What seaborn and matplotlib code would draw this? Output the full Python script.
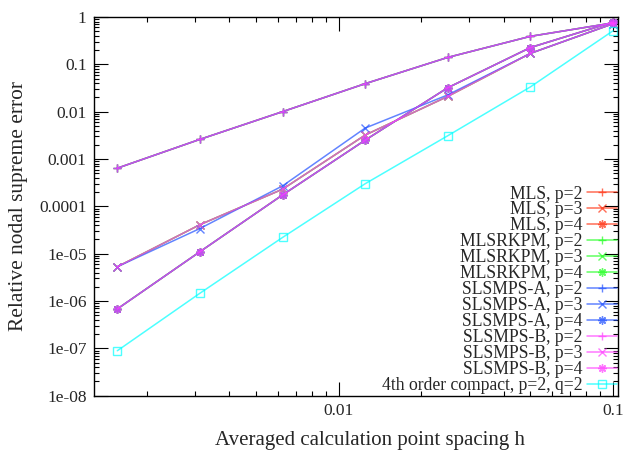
import numpy as np
import matplotlib
matplotlib.use("Agg")
import matplotlib.pyplot as plt
import matplotlib.ticker as mticker
import seaborn as sns

# calculation point spacing
h = [0.0015625, 0.003125, 0.00625, 0.0125, 0.025, 0.05, 0.1]

# relative nodal supreme error
mls_p2 = [6.4e-4, 2.6e-3, 1.0e-2, 3.9e-2, 0.14, 0.39, 0.75]
mls_p3 = [5.3e-6, 4.1e-5, 2.3e-4, 3.2e-3, 0.021, 0.17, 0.72]
mls_p4 = [6.8e-7, 1.1e-5, 1.74e-4, 2.5e-3, 0.032, 0.226, 0.78]
rkpm_p2 = [6.4e-4, 2.6e-3, 1.0e-2, 3.9e-2, 0.14, 0.39, 0.75]
rkpm_p3 = [5.3e-6, 4.1e-5, 2.3e-4, 3.2e-3, 0.021, 0.17, 0.72]
rkpm_p4 = [6.8e-7, 1.1e-5, 1.74e-4, 2.5e-3, 0.032, 0.226, 0.78]
slsA_p2 = [6.4e-4, 2.6e-3, 1.0e-2, 3.9e-2, 0.14, 0.39, 0.75]
slsA_p3 = [5.3e-6, 3.4e-5, 2.7e-4, 4.5e-3, 0.0226, 0.17, 0.72]
slsA_p4 = [6.8e-7, 1.1e-5, 1.74e-4, 2.5e-3, 0.032, 0.226, 0.78]
slsB_p2 = [6.4e-4, 2.6e-3, 1.0e-2, 3.9e-2, 0.14, 0.39, 0.75]
slsB_p3 = [5.3e-6, 4.1e-5, 2.3e-4, 3.2e-3, 0.021, 0.17, 0.72]
slsB_p4 = [6.8e-7, 1.1e-5, 1.74e-4, 2.5e-3, 0.032, 0.226, 0.78]
compact = [8.9e-8, 1.46e-6, 2.2e-5, 3.0e-4, 3.1e-3, 0.0333, 0.51]

labels = ["MLS, p=2", "MLS, p=3", "MLS, p=4",
          "MLSRKPM, p=2", "MLSRKPM, p=3", "MLSRKPM, p=4",
          "SLSMPS-A, p=2", "SLSMPS-A, p=3", "SLSMPS-A, p=4",
          "SLSMPS-B, p=2", "SLSMPS-B, p=3", "SLSMPS-B, p=4",
          "4th order compact, p=2, q=2"]
series = [mls_p2, mls_p3, mls_p4, rkpm_p2, rkpm_p3, rkpm_p4,
          slsA_p2, slsA_p3, slsA_p4, slsB_p2, slsB_p3, slsB_p4, compact]

red = "#ff3010"
green = "#20ff20"
blue = "#2050ff"
magenta = "#ff40ff"
cyan = "#00ffff"
colors = [red]*3 + [green]*3 + [blue]*3 + [magenta]*3 + [cyan]
star = (8, 2, 0)
markers = ["+", "x", star]*4 + ["s"]

sns.set_style("ticks")
plt.rcParams["font.family"] = ["Liberation Serif", "DejaVu Serif"]

fig = plt.figure(figsize=(6.29, 4.59), dpi=100)
ax = fig.add_axes([0.1487, 0.1379, 0.8338, 0.8251])

for y, lab, c, m in zip(series, labels, colors, markers):
	face = "none" if m == "s" else c
	sns.lineplot(x=h, y=y, ax=ax, color=c, marker=m, markersize=6,
	             markerfacecolor=face, markeredgecolor=c, markeredgewidth=1,
	             linewidth=1.1, alpha=0.7, label=lab)

ax.set_xscale("log")
ax.set_yscale("log")
ax.set_xlim(0.00128, 0.1043)
ax.set_ylim(1e-8, 1)

ax.xaxis.set_major_locator(mticker.FixedLocator([0.01, 0.1]))
ax.xaxis.set_major_formatter(mticker.FixedFormatter(["0.01", "0.1"]))
ax.xaxis.set_minor_locator(mticker.LogLocator(base=10, subs=np.arange(2, 10), numticks=20))
ax.xaxis.set_minor_formatter(mticker.NullFormatter())
yt = [10.0**k for k in range(-8, 1)]
ax.yaxis.set_major_locator(mticker.FixedLocator(yt))
ax.yaxis.set_major_formatter(mticker.FuncFormatter(lambda v, p: "%g" % v))
ax.yaxis.set_minor_locator(mticker.LogLocator(base=10, subs=np.arange(2, 10), numticks=20))
ax.yaxis.set_minor_formatter(mticker.NullFormatter())

ax.tick_params(which="both", direction="in", top=True, right=True, labelsize=12.5, color="black")
ax.tick_params(which="major", length=10, width=0.8, pad=5)
ax.tick_params(which="minor", length=3.5, width=0.8)
for s in ax.spines.values():
	s.set_linewidth(1)
	s.set_color("black")

ax.set_xlabel("Averaged calculation point spacing h", fontsize=15)
ax.xaxis.set_label_coords(0.527, -0.093)
ax.set_ylabel("Relative nodal supreme error", fontsize=15.4, labelpad=8)

leg = ax.legend(loc="lower right", bbox_to_anchor=(0.998, 0.005), frameon=False,
                markerfirst=False, fontsize=12.7, handlelength=1.7, handletextpad=0.25,
                borderpad=0, borderaxespad=0, labelspacing=-0.06)

fig.savefig("out.png", dpi=100)
